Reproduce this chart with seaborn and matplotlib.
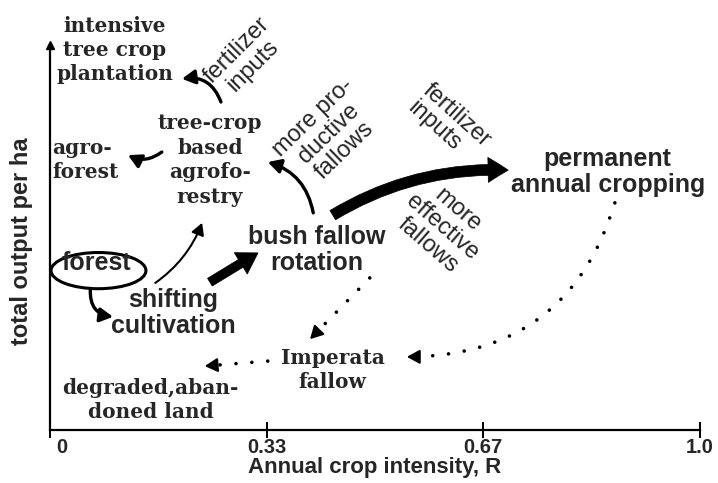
import matplotlib
matplotlib.use("Agg")
import numpy as np
import matplotlib.pyplot as plt
import matplotlib.transforms as mtrans
from matplotlib.patches import Ellipse
import seaborn as sns

# ---------------- data ----------------
x_ticks = [0, 1/3, 2/3, 1.0]
x_tick_labels = ["0", "0.33", "0.67", "1.0"]

# land-use stages placed at (crop intensity R, relative output per ha)
serif_labels = ["intensive\ntree crop\nplantation", "agro-\nforest",
                "tree-crop\nbased\nagrofo-\nrestry", "degraded,aban-\ndoned land",
                "Imperata\nfallow"]
serif_x = [0.100, 0.054, 0.246, 0.155, 0.435]
serif_y = [0.987, 0.701, 0.701, 0.078, 0.156]

sans_labels = ["forest", "shifting\ncultivation", "bush fallow\nrotation",
               "permanent\nannual cropping"]
sans_x = [0.071, 0.189, 0.411, 0.858]
sans_y = [0.434, 0.304, 0.468, 0.670]

forest_ellipse = (0.0746, 0.414, 0.146, 0.094)   # centre x, centre y, width, height

# notes on transitions
note_labels = ["fertilizer\ninputs", "more pro-\nductive\nfallows",
               "fertilizer\ninputs", "more\neffective\nfallows"]
note_x = [0.300, 0.429, 0.614, 0.604]
note_y = [0.966, 0.769, 0.795, 0.526]
note_angle = [45, 44, -42, -41]
note_align = ["center", "center", "left", "center"]

# transitions (start R, start output) -> (end R, end output), curvature
thin_start = [(0.263, 0.852), (0.172, 0.722), (0.405, 0.564), (0.062, 0.364)]
thin_end = [(0.203, 0.912), (0.120, 0.714), (0.335, 0.696), (0.097, 0.294)]
thin_rad = [0.4, -0.3, 0.3, 0.45]

fine_start = [(0.162, 0.382)]
fine_end = [(0.234, 0.538)]
fine_rad = [0.15]

bold_start = [(0.246, 0.384), (0.435, 0.558)]
bold_end = [(0.320, 0.460), (0.705, 0.675)]
bold_rad = [0.0, -0.15]

dot_start = [(0.492, 0.395), (0.869, 0.590), (0.335, 0.179)]
dot_end = [(0.400, 0.236), (0.549, 0.190), (0.238, 0.166)]
dot_rad = [0.0, -0.37, 0.0]

# ---------------- style ----------------
sns.set_theme(style="ticks")
plt.rcParams["font.family"] = ["Liberation Sans", "DejaVu Sans"]

fig = plt.figure(figsize=(7.18, 4.83), dpi=100)
ax = fig.add_axes([50 / 718, 53 / 483, 650 / 718, 385 / 483])
ax.set_xlim(0, 1)
ax.set_ylim(0, 1)
sns.despine(ax=ax)
for s in ("left", "bottom"):
    ax.spines[s].set_color("black")
    ax.spines[s].set_linewidth(1.6)

ax.set_yticks([])
ax.set_xticks(x_ticks)
ax.set_xticklabels(x_tick_labels, fontsize=14.5, fontweight="bold")
ax.tick_params(axis="x", direction="inout", length=11, width=1.4, color="black", pad=0)
lbl0 = ax.get_xticklabels()[0]
lbl0.set_transform(lbl0.get_transform() + mtrans.ScaledTranslation(12 / 100, 0, fig.dpi_scale_trans))

ax.set_xlabel("Annual crop intensity, R", fontsize=16, fontweight="bold")
ax.xaxis.set_label_coords(0.5, -0.070)
ax.set_ylabel("total output per ha", fontsize=17, fontweight="bold")
ax.yaxis.set_label_coords(-0.026, 0.49)

# arrow on y axis
ax.plot([0], [1], marker="^", color="black", markersize=6, transform=ax.transAxes, clip_on=False)

serif_font = dict(family="DejaVu Serif", fontsize=14.5, fontweight="bold")
for lab, x, y in zip(serif_labels, serif_x, serif_y):
    ax.text(x, y, lab, ha="center", va="center",
            multialignment="center" if lab != "agro-\nforest" else "left",
            linespacing=1.28, clip_on=False, **serif_font)

for lab, x, y in zip(sans_labels, sans_x, sans_y):
    ax.text(x, y, lab, ha="center", va="center", multialignment="center",
            fontsize=18, fontweight="bold", linespacing=1.12, clip_on=False)

ax.add_patch(Ellipse(forest_ellipse[:2], forest_ellipse[2], forest_ellipse[3],
                     fill=False, edgecolor="black", lw=2.2, clip_on=False))

for lab, x, y, a, al in zip(note_labels, note_x, note_y, note_angle, note_align):
    ax.text(x, y, lab, ha="center", va="center", multialignment=al, rotation=a,
            rotation_mode="anchor", fontsize=17, fontweight="light", linespacing=1.05,
            clip_on=False)


def arrow(p0, p1, rad, **kw):
    ax.annotate("", xy=p1, xytext=p0, xycoords="data", textcoords="data",
                arrowprops=dict(connectionstyle=f"arc3,rad={rad}", shrinkA=0, shrinkB=0,
                                color="black", **kw), annotation_clip=False)


def dotted_arrow(p0, p1, rad):
    arrow(p0, p1, rad, arrowstyle="-", lw=2.6, linestyle=(0, (0.01, 4.4)),
          capstyle="round")
    d0 = ax.transData.transform(p0)
    d1 = ax.transData.transform(p1)
    mid = (d0 + d1) / 2
    dx, dy = d1 - d0
    ctrl = mid + rad * np.array([dy, -dx])
    direc = d1 - ctrl
    direc = direc / np.hypot(*direc)
    back = ax.transData.inverted().transform(d1 - direc * 11)
    arrow(tuple(back), p1, 0, arrowstyle="-|>,head_length=0.55,head_width=0.3",
          lw=1.5, mutation_scale=14)


for p0, p1, r in zip(thin_start, thin_end, thin_rad):
    arrow(p0, p1, r, arrowstyle="-|>,head_length=0.55,head_width=0.3", lw=2.4, mutation_scale=14)
for p0, p1, r in zip(fine_start, fine_end, fine_rad):
    arrow(p0, p1, r, arrowstyle="-|>,head_length=0.5,head_width=0.28", lw=1.5, mutation_scale=14)
for p0, p1, r, tw in zip(bold_start, bold_end, bold_rad, [0.65, 0.78]):
    arrow(p0, p1, r, arrowstyle=f"simple,head_length=1.45,head_width=1.8,tail_width={tw}",
          lw=0.5, mutation_scale=10)
for p0, p1, r in zip(dot_start, dot_end, dot_rad):
    dotted_arrow(p0, p1, r)

fig.savefig("out.png", dpi=100)
